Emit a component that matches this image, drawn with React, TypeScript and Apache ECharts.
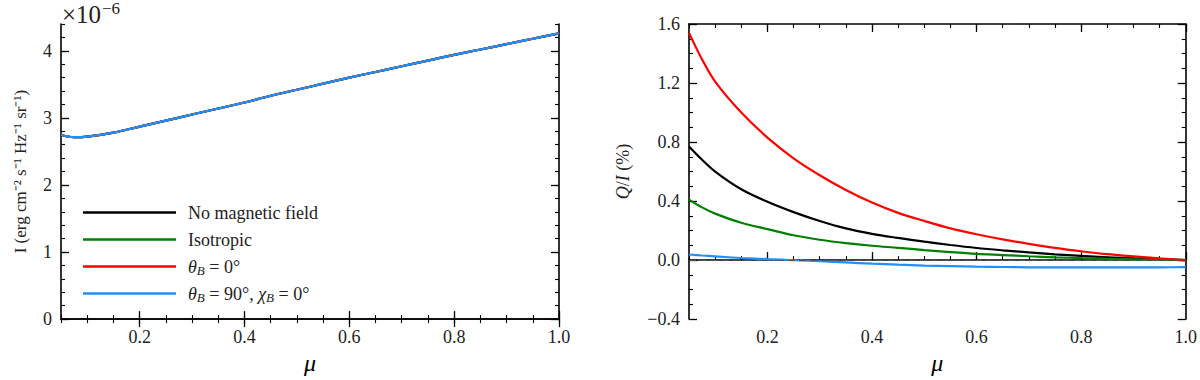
import React, { useEffect, useRef } from "react";
import * as echarts from "echarts";

// μ sample points shared by every curve
const mu = [0.05, 0.075, 0.1, 0.15, 0.2, 0.25, 0.3, 0.35, 0.4, 0.45, 0.5, 0.55, 0.6, 0.65, 0.7, 0.75, 0.8, 0.85, 0.9, 0.95, 1.0];

// Left panel: intensity (×10^-6); the four cases coincide
const intensity = [2.745, 2.712, 2.72, 2.78, 2.87, 2.96, 3.05, 3.14, 3.23, 3.33, 3.42, 3.51, 3.6, 3.685, 3.77, 3.855, 3.94, 4.02, 4.1, 4.18, 4.26];

// Right panel: Q/I (%)
const qNoField = [0.77, 0.68, 0.6, 0.48, 0.395, 0.325, 0.265, 0.215, 0.178, 0.15, 0.125, 0.102, 0.082, 0.066, 0.052, 0.039, 0.028, 0.019, 0.011, 0.005, 0.0];
const qIsotropic = [0.41, 0.357, 0.315, 0.253, 0.21, 0.168, 0.138, 0.115, 0.097, 0.083, 0.068, 0.054, 0.042, 0.034, 0.026, 0.019, 0.013, 0.009, 0.005, 0.002, 0.0];
const qTheta0 = [1.54, 1.36, 1.21, 1.0, 0.83, 0.69, 0.575, 0.475, 0.39, 0.32, 0.265, 0.215, 0.175, 0.14, 0.11, 0.083, 0.06, 0.04, 0.025, 0.011, 0.0];
const qTheta90 = [0.038, 0.031, 0.025, 0.014, 0.006, -0.001, -0.008, -0.016, -0.024, -0.031, -0.037, -0.041, -0.045, -0.047, -0.049, -0.05, -0.05, -0.05, -0.05, -0.049, -0.048];

const seriesNames = ["noField", "isotropic", "theta0", "theta90"];
const seriesColors = ["#000000", "#008000", "#ff0000", "#1e90ff"];
const legendLabels: Record<string, string> = {
  noField: "No magnetic field",
  isotropic: "Isotropic",
  theta0: "{it|θ}{sub|B} = 0°",
  theta90: "{it|θ}{sub|B} = 90°, {it|χ}{sub|B} = 0°",
};

const xMajorTicks = [0.2, 0.4, 0.6, 0.8, 1.0];
const leftYTicks = [0, 1, 2, 3, 4];

const FONT = "Liberation Serif";

function pairs(ys: number[]) {
  return mu.map((m, i) => [m, ys[i]]);
}

export default function App() {
  const ref = useRef<HTMLDivElement>(null);
  useEffect(() => {
    if (!ref.current) return;
    const chart = echarts.init(ref.current, undefined, { renderer: "svg" });
    const axisLine = { show: true, lineStyle: { color: "#000", width: 1.6 } };
    const labelStyle = { fontFamily: FONT, fontSize: 18, color: "#222" };

    const xAxes: any[] = [];
    const yAxes: any[] = [];
    [0, 1].forEach((g) => {
      xAxes.push({
        type: "value", gridIndex: g, position: "bottom", min: 0.05, max: 1.0,
        axisLine, splitLine: { show: false },
        axisTick: { show: true, inside: true, length: 8, customValues: xMajorTicks, lineStyle: { color: "#000", width: 1.3 } },
        axisLabel: { show: true, customValues: xMajorTicks, margin: 9, formatter: (v: number) => v.toFixed(1), ...labelStyle },
        name: "μ", nameLocation: "middle", nameGap: 23,
        nameTextStyle: { fontFamily: FONT, fontSize: 24, fontStyle: "italic", color: "#000" },
      });
      xAxes.push({
        type: "value", gridIndex: g, position: "bottom", min: 0.05, max: 1.0, interval: 0.05,
        axisLine: { show: false }, splitLine: { show: false }, axisLabel: { show: false },
        axisTick: { show: true, inside: true, length: 4, lineStyle: { color: "#000", width: 1.1 } },
      });
      xAxes.push({
        type: "value", gridIndex: g, position: "top", min: 0.05, max: 1.0,
        axisLine, splitLine: { show: false }, axisLabel: { show: false },
        axisTick: { show: true, inside: true, length: 8, customValues: xMajorTicks, lineStyle: { color: "#000", width: 1.3 } },
      });
      xAxes.push({
        type: "value", gridIndex: g, position: "top", min: 0.05, max: 1.0, interval: 0.05,
        axisLine: { show: false }, splitLine: { show: false }, axisLabel: { show: false },
        axisTick: { show: true, inside: true, length: 4, lineStyle: { color: "#000", width: 1.1 } },
      });
    });

    yAxes.push({
      type: "value", gridIndex: 0, position: "left", min: 0, max: 4.4,
      axisLine, splitLine: { show: false },
      axisTick: { show: true, inside: true, length: 8, customValues: leftYTicks, lineStyle: { color: "#000", width: 1.3 } },
      axisLabel: { show: true, customValues: leftYTicks, margin: 9, formatter: (v: number) => String(v), ...labelStyle },
      name: "I (erg cm⁻² s⁻¹ Hz⁻¹ sr⁻¹)", nameLocation: "middle", nameGap: 32,
      nameTextStyle: { fontFamily: FONT, fontSize: 17, color: "#222" },
    });
    yAxes.push({
      type: "value", gridIndex: 0, position: "left", min: 0, max: 4.4, interval: 0.2,
      axisLine: { show: false }, splitLine: { show: false }, axisLabel: { show: false },
      axisTick: { show: true, inside: true, length: 4, lineStyle: { color: "#000", width: 1.1 } },
    });
    yAxes.push({
      type: "value", gridIndex: 0, position: "right", min: 0, max: 4.4,
      axisLine, splitLine: { show: false }, axisLabel: { show: false },
      axisTick: { show: true, inside: true, length: 8, customValues: leftYTicks, lineStyle: { color: "#000", width: 1.3 } },
    });
    yAxes.push({
      type: "value", gridIndex: 0, position: "right", min: 0, max: 4.4, interval: 0.2,
      axisLine: { show: false }, splitLine: { show: false }, axisLabel: { show: false },
      axisTick: { show: true, inside: true, length: 4, lineStyle: { color: "#000", width: 1.1 } },
    });
    const rightTick = { show: true, inside: true, length: 8, lineStyle: { color: "#000", width: 1.3 } };
    const rightMinor = { show: true, splitNumber: 4, length: 4, lineStyle: { color: "#000", width: 1.1 } };
    yAxes.push({
      type: "value", gridIndex: 1, position: "left", min: -0.4, max: 1.6, interval: 0.4,
      axisLine, splitLine: { show: false }, minorSplitLine: { show: false },
      axisTick: rightTick, minorTick: rightMinor,
      axisLabel: { show: true, margin: 9, formatter: (v: number) => (v < 0 ? "−" + Math.abs(v).toFixed(1) : v.toFixed(1)), ...labelStyle },
      name: "{it|Q}/{it|I} (%)", nameLocation: "middle", nameGap: 57,
      nameTextStyle: { fontFamily: FONT, fontSize: 18, color: "#222", rich: { it: { fontFamily: FONT, fontSize: 18, fontStyle: "italic", color: "#222" } } },
    });
    yAxes.push({
      type: "value", gridIndex: 1, position: "right", min: -0.4, max: 1.6, interval: 0.4,
      axisLine, splitLine: { show: false }, minorSplitLine: { show: false },
      axisTick: rightTick, minorTick: rightMinor, axisLabel: { show: false },
    });

    const lineCommon = { showSymbol: false, smooth: 0.35 };
    const leftSeries = seriesNames.map((n, i) => ({
      name: n, type: "line", xAxisIndex: 0, yAxisIndex: 0,
      data: pairs(intensity), ...lineCommon,
      lineStyle: { color: seriesColors[i], width: 2.2 }, itemStyle: { color: seriesColors[i] },
    }));
    const qData = [qNoField, qIsotropic, qTheta0, qTheta90];
    const rightSeries = seriesNames.map((n, i) => ({
      name: n, type: "line", xAxisIndex: 4, yAxisIndex: 4,
      data: pairs(qData[i]), ...lineCommon,
      lineStyle: { color: seriesColors[i], width: 2.2 }, itemStyle: { color: seriesColors[i] },
    }));
    const zeroLine = {
      name: "zero", type: "line", xAxisIndex: 4, yAxisIndex: 4, data: [], silent: true,
      markLine: {
        silent: true, symbol: "none", label: { show: false },
        lineStyle: { color: "#555", type: [7, 4], width: 1.2 },
        data: [{ yAxis: 0 }],
      },
    };

    chart.setOption({
      animation: false,
      textStyle: { fontFamily: FONT },
      title: [
        {
          text: "×10", left: 62, top: 2, padding: 0,
          textStyle: { fontFamily: FONT, fontSize: 25, color: "#222", fontWeight: "normal" },
        },
        {
          text: "−6", left: 102, top: 0, padding: 0,
          textStyle: { fontFamily: FONT, fontSize: 17, color: "#222", fontWeight: "normal" },
        },
      ],
      grid: [
        { left: 61, top: 24, width: 498, height: 297 },
        { left: 689, top: 24, width: 498, height: 297 },
      ],
      xAxis: xAxes,
      yAxis: yAxes,
      legend: {
        data: seriesNames, orient: "vertical", left: 83, top: 202.5, padding: 0,
        icon: "rect", itemWidth: 93, itemHeight: 2.5, itemGap: 7,
        formatter: (n: string) => legendLabels[n],
        textStyle: {
          fontFamily: FONT, fontSize: 18, color: "#222", lineHeight: 20, padding: [0, 0, 0, 7],
          rich: {
            it: { fontFamily: FONT, fontSize: 18, fontStyle: "italic", color: "#222" },
            sub: { fontFamily: FONT, fontSize: 13, fontStyle: "italic", color: "#222", verticalAlign: "bottom", lineHeight: 14, padding: [6, 0, 0, 0] },
          },
        },
      },
      series: [...leftSeries, zeroLine, ...rightSeries],
    });
    return () => chart.dispose();
  }, []);
  return <div ref={ref} style={{ position: "fixed", left: 0, top: 0, width: 1200, height: 380, background: "#fff" }} />;
}
